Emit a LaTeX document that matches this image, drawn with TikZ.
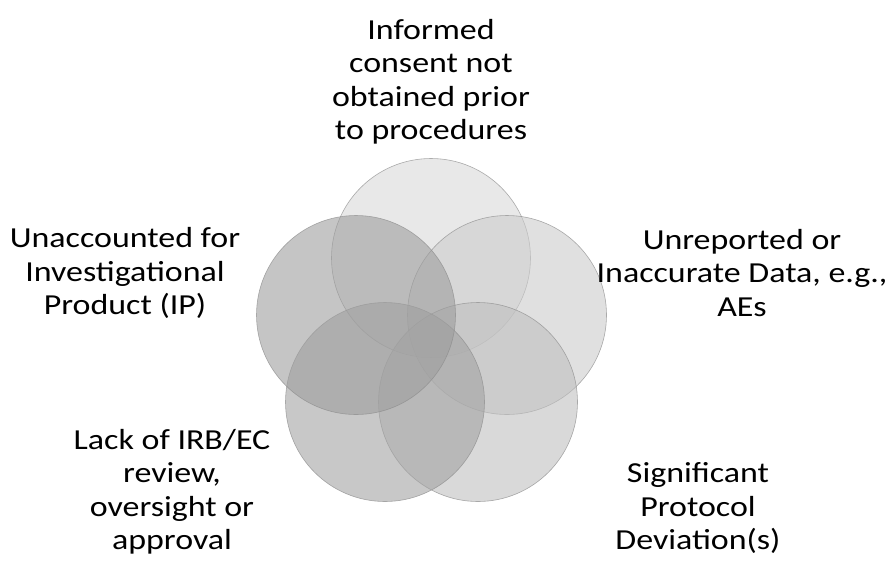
\documentclass[tikz,border=0pt]{standalone}
\usepackage{fontspec}
\setmainfont{Carlito}[FakeStretch=1.17]
\usepackage{tikz}
\usetikzlibrary{positioning}

\begin{document}
\begin{tikzpicture}[
    x=1pt, y=-1pt,
    every node/.style={inner sep=0pt},
    venn/.style={circle, minimum size=199pt, draw=black!45, line width=0.6pt,
                 fill opacity=0.6, draw opacity=0.7},
    caption/.style={align=center, font=\fontsize{29}{33.5}\selectfont}
]
\useasboundingbox (0,0) rectangle (886,566);

% --- Circles ------------------------------------------------------------
\node[venn, fill=black!15] (consent)   at (431,258) {};
\node[venn, fill=black!20] (data)      at (507,315) {};
\node[venn, fill=black!25] (deviation) at (478,402) {};
\node[venn, fill=black!36] (irb)       at (385,402) {};
\node[venn, fill=black!38] (product)   at (356,315) {};

% --- Labels -------------------------------------------------------------
\node[caption] (lconsent)   at (431,82)  {Informed\\consent not\\obtained prior\\to procedures};
\node[caption] (lproduct)   at (125,273) {Unaccounted for\\Investigational\\Product (IP)};
\node[caption] (ldata)      at (742,273) {Unreported or\\Inaccurate Data, e.g.,\\AEs};
\node[caption] (lirb)       at (172,492) {Lack of IRB/EC\\review,\\oversight or\\approval};
\node[caption] (ldeviation) at (698,508) {Significant\\Protocol\\Deviation(s)};

\end{tikzpicture}
\end{document}
